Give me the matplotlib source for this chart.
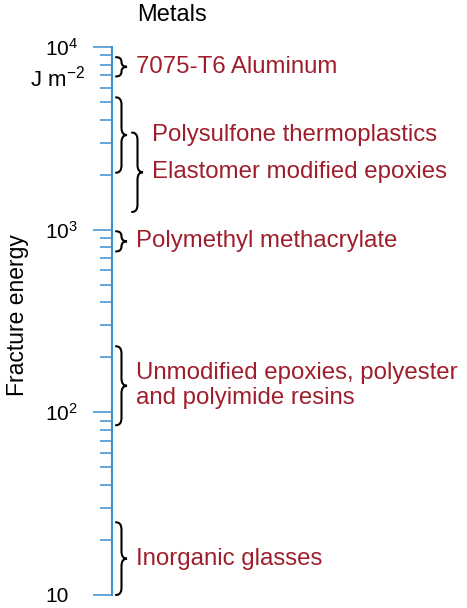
import numpy as np
import matplotlib
matplotlib.use('Agg')
import matplotlib.pyplot as plt
from matplotlib.path import Path
from matplotlib.patches import PathPatch
from matplotlib.ticker import FixedLocator, FixedFormatter, LogLocator, NullFormatter

plt.rcParams['font.family'] = 'Liberation Sans'
plt.rcParams['mathtext.fontset'] = 'custom'
plt.rcParams['mathtext.rm'] = 'Liberation Sans'
plt.rcParams['mathtext.it'] = 'Liberation Sans:italic'

# fracture energy ranges (J m^-2)
materials = ["7075-T6 Aluminum",
             "Polysulfone thermoplastics",
             "Elastomer modified epoxies",
             "Polymethyl methacrylate",
             "Unmodified epoxies, polyester\nand polyimide resins",
             "Inorganic glasses"]
low = [6900, 2050, 1250, 760, 85, 10]
high = [8800, 5300, 3400, 980, 230, 25]
nest = [0, 0, 1, 0, 0, 0]   # second column of braces for overlapping ranges

major_ticks = [10, 100, 1000, 10000]
major_labels = ['10', '$10^2$', '$10^3$', '$10^4$']

blue = '#3b8fd2'
red = '#9e1f2b'

W, H = 467, 608
fig = plt.figure(figsize=(W / 100, H / 100), dpi=100)
# x axis in pixel units from the scale line
ax = fig.add_axes([112 / W, 13 / H, (W - 112) / W, 548 / H])
ax.set_yscale('log')
ax.set_ylim(10, 1e4)
ax.set_xlim(0, W - 112)
for s in ['top', 'right', 'bottom']:
    ax.spines[s].set_visible(False)
ax.spines['left'].set_color(blue)
ax.spines['left'].set_linewidth(1.5)
ax.set_xticks([])

ax.yaxis.set_major_locator(FixedLocator(major_ticks))
ax.yaxis.set_major_formatter(FixedFormatter(major_labels))
ax.yaxis.set_minor_locator(LogLocator(base=10, subs=np.arange(2, 10)))
ax.yaxis.set_minor_formatter(NullFormatter())
ax.tick_params(axis='y', which='major', length=14, width=1.1, color=blue,
               pad=34, labelsize=15)
ax.tick_params(axis='y', which='minor', length=8.5, width=1.1, color=blue)
for lbl in ax.get_yticklabels():
    lbl.set_horizontalalignment('left')


def draw_brace(ax, x0, width, lo, hi):
    ylo, yhi = np.log10(lo), np.log10(hi)
    ym = (ylo + yhi) / 2
    r = min(0.04, (yhi - ylo) / 4)
    xm = x0 + width / 2
    xt = x0 + width
    pts = [(x0, yhi), (xm, yhi), (xm, yhi - r),
           (xm, ym + r),
           (xm, ym), (xt, ym),
           (xm, ym), (xm, ym - r),
           (xm, ylo + r),
           (xm, ylo), (x0, ylo)]
    codes = [Path.MOVETO, Path.CURVE3, Path.CURVE3, Path.LINETO,
             Path.CURVE3, Path.CURVE3, Path.CURVE3, Path.CURVE3,
             Path.LINETO, Path.CURVE3, Path.CURVE3]
    verts = [(x, 10 ** y) for x, y in pts]
    ax.add_patch(PathPatch(Path(verts, codes), fill=False, lw=1.5,
                           ec='black', capstyle='round', clip_on=False))
    return xt, 10 ** ym


for name, lo, hi, lvl in zip(materials, low, high, nest):
    x0 = 4 + 16 * lvl
    xt, ymid = draw_brace(ax, x0, 11, lo, hi)
    # the two overlapping polymer ranges share one text column
    tx = 40 if name.startswith("Polysulfone") else xt + 9
    ax.text(tx, ymid, name, color=red, fontsize=17.3, ha='left',
            va='center', linespacing=1.15)

fig.text(30 / W, 1 - 79 / H, r'J m$^{-2}$', fontsize=16, ha='left', va='center')
fig.text(172 / W, 1 - 15 / H, 'Metals', fontsize=17, ha='center', va='center')
fig.text(18 / W, 1 - 315 / H, 'Fracture energy', fontsize=16.5, rotation=90,
         ha='center', va='center')

fig.savefig('out.png', dpi=100)
